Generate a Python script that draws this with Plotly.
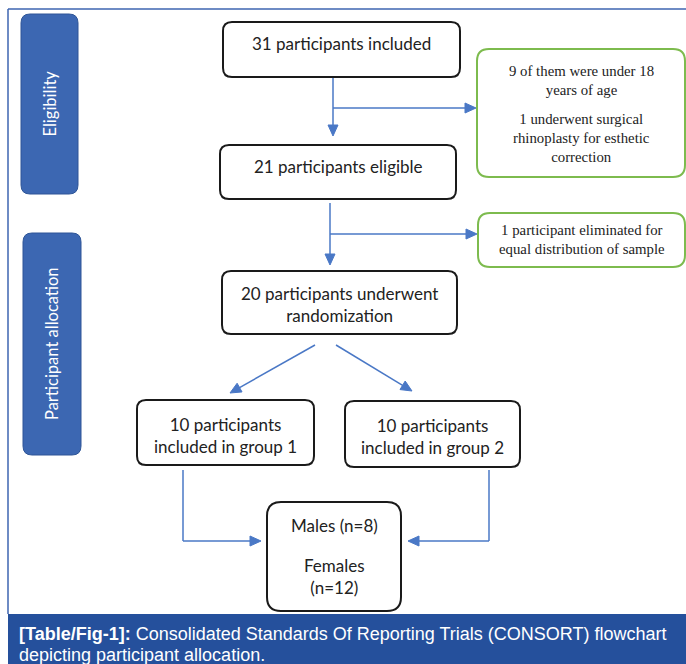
import math
import plotly.graph_objects as go

# ---- content (text) ----
main_labels = [
    "31 participants included",
    "21 participants eligible",
    "20 participants underwent<br>randomization",
    "10 participants<br>included in group 1",
    "10 participants<br>included in group 2",
]
final_label_top = "Males (n=8)"
final_label_bottom = "Females<br>(n=12)"
exclusion_1a = "9 of them were under 18<br>years of age"
exclusion_1b = "1 underwent surgical<br>rhinoplasty for esthetic<br>correction"
exclusion_2 = "1 participant eliminated for<br>equal distribution of sample"
side_labels = ["Eligibility", "Participant allocation"]
caption_line1_bold = "[Table/Fig-1]:"
caption_line1_rest = " Consolidated Standards Of Reporting Trials (CONSORT) flowchart"
caption_line2 = "depicting participant allocation."

# ---- layout geometry (pixel space) ----
W, H = 686, 664
main_boxes = [(223, 22, 460, 77), (220, 145, 456, 199), (222, 271, 457, 334),
              (137, 400, 314, 465), (345, 401, 520, 467)]
main_text_y = [43, 166, 304, 435, 436]
final_box = (267, 502, 401, 611)
green_boxes = [(477, 49, 685, 177), (478, 213, 685, 267)]
side_boxes = [(21, 14, 78, 194), (23, 233, 81, 455)]

BLUE_SIDE = "#3C67B2"
BLUE_BAND = "#25509C"
ARROW = "#4A78C6"
GREEN = "#7DBB4E"

def rrect(x0, y0, x1, y1, r):
    return (f"M {x0+r},{y0} L {x1-r},{y0} Q {x1},{y0} {x1},{y0+r} "
            f"L {x1},{y1-r} Q {x1},{y1} {x1-r},{y1} L {x0+r},{y1} "
            f"Q {x0},{y1} {x0},{y1-r} L {x0},{y0+r} Q {x0},{y0} {x0+r},{y0} Z")

shapes = []
annotations = []

# frame
shapes.append(dict(type="line", x0=8, y0=9, x1=686, y1=9, line=dict(color="#3E64B0", width=1.5)))
shapes.append(dict(type="line", x0=8, y0=9, x1=8, y1=614, line=dict(color="#3E64B0", width=1.5)))
shapes.append(dict(type="rect", x0=8, y0=614, x1=686, y1=664, fillcolor=BLUE_BAND, line=dict(width=0)))

# side boxes
for (x0, y0, x1, y1), lab in zip(side_boxes, side_labels):
    shapes.append(dict(type="path", path=rrect(x0, y0, x1, y1, 9), fillcolor=BLUE_SIDE,
                       line=dict(color="#2E5597", width=1)))
    annotations.append(dict(x=(x0 + x1) / 2, y=(y0 + y1) / 2, text=lab, showarrow=False, textangle=-90,
                            font=dict(family="Lato", size=16.5, color="white")))

# main boxes
for (x0, y0, x1, y1), lab, ty in zip(main_boxes, main_labels, main_text_y):
    shapes.append(dict(type="path", path=rrect(x0, y0, x1, y1, 9), fillcolor="white",
                       line=dict(color="#1a1a1a", width=2)))
    annotations.append(dict(x=(x0 + x1) / 2, y=ty, text=lab, showarrow=False,
                            font=dict(family="Lato", size=17, color="#222")))

# final box
x0, y0, x1, y1 = final_box
shapes.append(dict(type="path", path=rrect(x0, y0, x1, y1, 14), fillcolor="white",
                   line=dict(color="#1a1a1a", width=2)))
annotations.append(dict(x=(x0 + x1) / 2, y=525, text=final_label_top, showarrow=False,
                        font=dict(family="Lato", size=17, color="#222")))
annotations.append(dict(x=(x0 + x1) / 2, y=576, text=final_label_bottom, showarrow=False,
                        font=dict(family="Lato", size=17, color="#222")))

# green boxes
for (x0, y0, x1, y1) in green_boxes:
    shapes.append(dict(type="path", path=rrect(x0, y0, x1, y1, 12), fillcolor="white",
                       line=dict(color=GREEN, width=2)))
gx = (green_boxes[0][0] + green_boxes[0][2]) / 2
annotations.append(dict(x=gx, y=80, text=exclusion_1a, showarrow=False,
                        font=dict(family="Liberation Serif", size=14.8, color="#222")))
annotations.append(dict(x=gx, y=138, text=exclusion_1b, showarrow=False,
                        font=dict(family="Liberation Serif", size=14.8, color="#222")))
gx2 = (green_boxes[1][0] + green_boxes[1][2]) / 2
annotations.append(dict(x=gx2, y=239, text=exclusion_2, showarrow=False,
                        font=dict(family="Liberation Serif", size=14.8, color="#222")))

# connectors
def seg(xa, ya, xb, yb):
    shapes.append(dict(type="line", x0=xa, y0=ya, x1=xb, y1=yb, line=dict(color=ARROW, width=1.5)))

def arrow(xa, ya, xb, yb, L=11, w=5):
    dx, dy = xb - xa, yb - ya
    n = math.hypot(dx, dy)
    ux, uy = dx / n, dy / n
    bx, by = xb - L * ux, yb - L * uy
    seg(xa, ya, bx, by)
    px, py = -uy, ux
    path = f"M {xb},{yb} L {bx+w*px},{by+w*py} L {bx-w*px},{by-w*py} Z"
    shapes.append(dict(type="path", path=path, fillcolor=ARROW, line=dict(color=ARROW, width=1)))

arrow(333, 78, 333, 136)
arrow(333, 108, 476, 108)
arrow(330, 203, 330, 265)
arrow(330, 234, 477, 234)
arrow(315, 345, 230, 393)
arrow(336, 345, 412, 391)
seg(183, 470, 183, 541)
arrow(183, 541, 261, 541)
seg(489, 470, 489, 541)
arrow(489, 541, 408, 541)

# caption
annotations.append(dict(x=17, y=634, xanchor="left", align="left", showarrow=False,
                        text=f"<b>{caption_line1_bold}</b>{caption_line1_rest}",
                        font=dict(family="Liberation Sans", size=18, color="white")))
annotations.append(dict(x=17, y=655, xanchor="left", align="left", showarrow=False,
                        text=caption_line2,
                        font=dict(family="Liberation Sans", size=18, color="white")))

fig = go.Figure()
fig.update_layout(
    width=W, height=H, margin=dict(l=0, r=0, t=0, b=0),
    paper_bgcolor="white", plot_bgcolor="white",
    xaxis=dict(range=[0, W], visible=False, fixedrange=True),
    yaxis=dict(range=[H, 0], visible=False, fixedrange=True),
    shapes=shapes, annotations=annotations, showlegend=False,
)
fig.write_html("out.html", config={"displayModeBar": False},
               post_script="document.body.style.margin='0';document.body.style.overflow='hidden';")
